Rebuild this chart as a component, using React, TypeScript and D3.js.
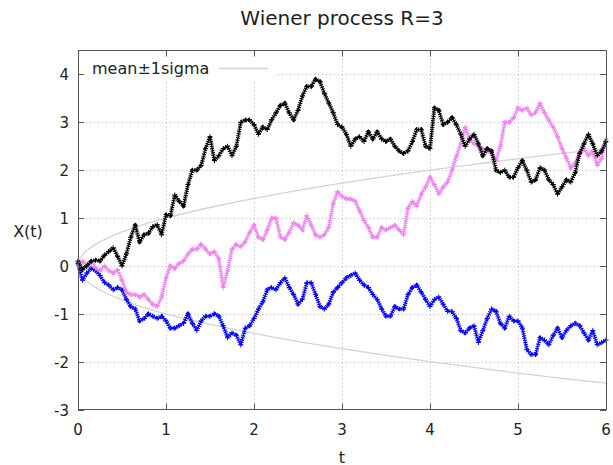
import React from "react";
import * as d3 from "d3";

// Three sample paths of the Wiener process, sampled every 0.05 in t
const T_STEP = 0.05;

const pathBlack = [
  0.1, -0.08, 0.0, 0.1, 0.12, 0.1, 0.22, 0.3, 0.38, 0.2, 0.0, 0.25, 0.6, 0.85, 0.5, 0.65, 0.68, 0.82, 0.86, 0.65, 1.07,
  1.05, 1.48, 1.35, 1.25, 1.7, 2.0, 2.0, 2.1, 2.45, 2.7, 2.2, 2.3, 2.45, 2.5, 2.3, 2.5, 3.0, 3.05, 3.05, 2.95,
  2.75, 2.9, 2.85, 3.05, 3.2, 3.35, 3.4, 3.2, 3.05, 3.25, 3.55, 3.75, 3.75, 3.9, 3.85, 3.6, 3.4, 3.2, 2.95, 2.9,
  2.75, 2.5, 2.65, 2.7, 2.6, 2.8, 2.65, 2.8, 2.65, 2.6, 2.65, 2.5, 2.4, 2.35, 2.4, 2.6, 2.85, 2.85, 2.5, 2.45,
  3.3, 3.25, 2.95, 3.0, 3.1, 2.95, 2.75, 2.5, 2.65, 2.75, 2.55, 2.3, 2.45, 2.4, 2.0, 1.95, 2.0, 1.85, 1.85, 2.05,
  2.2, 2.0, 1.75, 1.8, 2.05, 2.0, 1.8, 1.7, 1.5, 1.65, 1.8, 1.75, 1.95, 2.35, 2.55, 2.75, 2.55, 2.3, 2.4, 2.6,
];

const pathViolet = [
  0.0, 0.1, 0.0, 0.1, -0.05, -0.1, 0.0, -0.1, -0.15, -0.08, -0.3, -0.55, -0.6, -0.6, -0.65, -0.6, -0.7, -0.8, -0.85, -0.65, -0.25,
  0.0, -0.05, 0.05, 0.1, 0.25, 0.35, 0.35, 0.45, 0.35, 0.25, 0.3, 0.15, -0.45, -0.1, 0.35, 0.45, 0.4, 0.5, 0.7, 0.85,
  0.6, 0.55, 0.75, 1.0, 1.0, 0.6, 0.55, 0.7, 0.9, 0.85, 0.75, 1.05, 0.85, 0.65, 0.6, 0.65, 0.8, 1.3, 1.55, 1.45,
  1.4, 1.4, 1.35, 1.15, 0.95, 0.8, 0.6, 0.6, 0.8, 0.75, 0.8, 0.85, 0.75, 0.65, 1.2, 1.35, 1.25, 1.5, 1.65, 1.85,
  1.7, 1.5, 1.65, 1.75, 2.0, 2.3, 2.55, 2.9, 2.65, 2.55, 2.5, 2.45, 2.4, 2.35, 2.2, 2.5, 3.0, 3.0, 3.1, 3.3,
  3.25, 3.3, 3.15, 3.2, 3.4, 3.2, 3.05, 2.9, 2.7, 2.45, 2.25, 2.05, 2.15, 2.35, 2.45, 2.3, 2.4, 2.1, 2.25, 2.65,
];

const pathBlue = [
  0.05, -0.3, -0.15, -0.05, -0.1, -0.2, -0.35, -0.4, -0.5, -0.45, -0.5, -0.7, -0.85, -0.9, -1.15, -1.1, -1.0, -1.05, -1.1, -1.05, -1.15,
  -1.3, -1.3, -1.25, -1.2, -1.0, -1.2, -1.35, -1.15, -1.05, -1.05, -1.0, -1.05, -1.25, -1.5, -1.4, -1.45, -1.65, -1.3, -1.25, -1.1,
  -0.9, -0.75, -0.5, -0.45, -0.5, -0.35, -0.25, -0.45, -0.6, -0.8, -0.7, -0.35, -0.35, -0.6, -0.85, -0.9, -0.8, -0.55, -0.45, -0.35,
  -0.25, -0.2, -0.15, -0.3, -0.4, -0.45, -0.6, -0.7, -0.9, -1.05, -1.05, -0.85, -0.9, -0.9, -0.6, -0.45, -0.4, -0.55, -0.7, -0.85,
  -0.7, -0.65, -0.8, -0.95, -0.95, -1.1, -1.35, -1.4, -1.3, -1.25, -1.6, -1.35, -1.1, -0.9, -0.95, -1.2, -1.3, -1.05, -1.15, -1.15,
  -1.3, -1.75, -1.85, -1.85, -1.5, -1.55, -1.65, -1.45, -1.3, -1.5, -1.35, -1.25, -1.2, -1.25, -1.4, -1.55, -1.35, -1.65, -1.6, -1.55,
];

// One-sigma envelope (standard deviation of X(t))
const sigmaT = [0, 0.01, 0.03, 0.06, 0.1, 0.2, 0.3, 0.5, 0.75, 1, 1.5, 2, 2.5, 3, 3.5, 4, 4.5, 5, 5.5, 6];
const sigmaV = [0, 0.1, 0.17, 0.245, 0.32, 0.45, 0.55, 0.71, 0.87, 1.0, 1.22, 1.41, 1.58, 1.73, 1.87, 2.0, 2.12, 2.24, 2.35, 2.45];

const xTicks = [0, 1, 2, 3, 4, 5, 6];
const yTicks = [-3, -2, -1, 0, 1, 2, 3, 4];

const series = [
  { values: pathBlue, color: "#0000ff" },
  { values: pathViolet, color: "#ee82ee" },
  { values: pathBlack, color: "#000000" },
];

const W = 613;
const H = 465;
const M = { left: 78, right: 606, top: 50.5, bottom: 409.5 };
const FONT = "DejaVu Sans, sans-serif";

export default function App() {
  const x = d3.scaleLinear().domain([0, 6]).range([M.left, M.right]);
  const y = d3.scaleLinear().domain([-3, 4.5]).range([M.bottom, M.top]);

  const line = d3
    .line<number>()
    .x((_, i) => x(i * T_STEP))
    .y((v) => y(v));

  const sigmaUpper = d3
    .line<number>()
    .x((_, i) => x(sigmaT[i]))
    .y((v) => y(v))
    .curve(d3.curveMonotoneY);
  const sigmaLower = d3
    .line<number>()
    .x((_, i) => x(sigmaT[i]))
    .y((v) => y(-v))
    .curve(d3.curveMonotoneY);

  const tickLen = 6;

  return (
    <svg
      width={W}
      height={H}
      style={{ position: "absolute", left: 0, top: 0, background: "#fff" }}
      fontFamily={FONT}
    >
      <rect x={0} y={0} width={W} height={H} fill="#fff" />

      {/* grid */}
      <g stroke="#b4b4b4" strokeWidth={1} strokeDasharray="1,3">
        {xTicks.slice(1, -1).map((t) => (
          <line key={"gx" + t} x1={Math.round(x(t)) + 0.5} x2={Math.round(x(t)) + 0.5} y1={M.top} y2={M.bottom} />
        ))}
        {yTicks.slice(1).map((t) => (
          <line key={"gy" + t} x1={M.left} x2={M.right} y1={Math.round(y(t)) + 0.5} y2={Math.round(y(t)) + 0.5} />
        ))}
      </g>

      {/* legend box background */}
      <rect x={M.left + 1} y={57} width={196} height={23} fill="#fff" />

      {/* sigma envelope */}
      <path d={sigmaUpper(sigmaV) || ""} fill="none" stroke="#d3d3d3" strokeWidth={1.3} />
      <path d={sigmaLower(sigmaV) || ""} fill="none" stroke="#d3d3d3" strokeWidth={1.3} />

      {/* sample paths, drawn as a dense speckled band of point markers */}
      {series.map((s, si) => (
        <g key={si}>
          <path
            d={line(s.values) || ""}
            fill="none"
            stroke={s.color}
            strokeWidth={4}
            strokeDasharray="1.2,1"
            strokeLinejoin="round"
          />
          <path
            d={line(s.values) || ""}
            fill="none"
            stroke={s.color}
            strokeWidth={1.2}
            strokeLinejoin="round"
          />
          <g stroke={s.color} strokeWidth={1}>
            {s.values.map((v, i) => {
              const cx = x(i * T_STEP);
              const cy = y(v);
              return (
                <g key={i}>
                  <line x1={cx - 2.5} x2={cx + 2.5} y1={cy} y2={cy} />
                  <line x1={cx} x2={cx} y1={cy - 2.5} y2={cy + 2.5} />
                </g>
              );
            })}
          </g>
        </g>
      ))}

      {/* frame and ticks */}
      <g stroke="#555" strokeWidth={1} fill="none">
        <rect x={M.left + 0.5} y={M.top} width={M.right - M.left} height={M.bottom - M.top} />
        {xTicks.map((t) => {
          const px = Math.round(x(t)) + 0.5;
          return (
            <g key={"tx" + t}>
              <line x1={px} x2={px} y1={M.bottom} y2={M.bottom - tickLen} />
              <line x1={px} x2={px} y1={M.top} y2={M.top + tickLen} />
            </g>
          );
        })}
        {yTicks.map((t) => {
          const py = Math.round(y(t)) + 0.5;
          return (
            <g key={"ty" + t}>
              <line x1={M.left} x2={M.left + tickLen} y1={py} y2={py} />
              <line x1={M.right} x2={M.right - tickLen} y1={py} y2={py} />
            </g>
          );
        })}
      </g>

      {/* tick labels */}
      <g fontSize={15} fill="#222">
        {xTicks.map((t) => (
          <text key={"lx" + t} x={x(t)} y={430} textAnchor="middle" dominantBaseline="central">
            {t}
          </text>
        ))}
        {yTicks.map((t) => (
          <text key={"ly" + t} x={69} y={y(t) + 1} textAnchor="end" dominantBaseline="central">
            {t}
          </text>
        ))}
      </g>

      {/* legend */}
      <text x={92} y={68} fontSize={16} fill="#222" dominantBaseline="central">
        mean±1sigma
      </text>
      <line x1={219} x2={268} y1={68.5} y2={68.5} stroke="#d3d3d3" strokeWidth={1.3} />

      {/* titles */}
      <text x={(M.left + M.right) / 2} y={25} fontSize={20} textAnchor="middle" fill="#222">
        Wiener process R=3
      </text>
      <text x={(M.left + M.right) / 2} y={457} fontSize={16} textAnchor="middle" dominantBaseline="central" fill="#222">
        t
      </text>
      <text x={28} y={231} fontSize={16} textAnchor="middle" dominantBaseline="central" fill="#222">
        X(t)
      </text>
    </svg>
  );
}
